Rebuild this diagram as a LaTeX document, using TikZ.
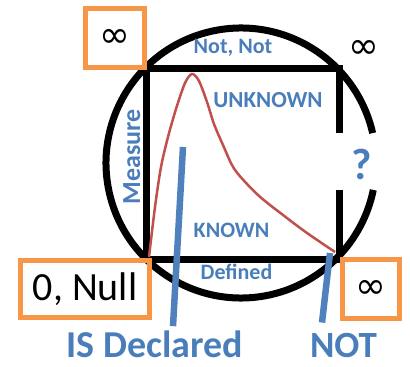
\documentclass[tikz,border=0pt]{standalone}
\usepackage{fontspec}
\setmainfont{Carlito}
\newfontfamily\inffont{DejaVu Sans}
\newcommand{\fsz}[1]{\fontsize{#1}{#1}\selectfont}
\definecolor{labelblue}{HTML}{4A7EBB}
\definecolor{lineblue}{HTML}{4F81BD}
\definecolor{boxorange}{HTML}{F79646}
\definecolor{curvered}{HTML}{C0504D}
\tikzset{
  tag/.style={text=labelblue, inner sep=0pt, anchor=base},
  limitbox/.style={draw=boxorange, line width=5pt, inner sep=0pt},
  pointer/.style={draw=lineblue, line width=6.5pt},
  frame/.style={line width=7pt},
}

\begin{document}
\begin{tikzpicture}[x=1pt,y=1pt]
\useasboundingbox (0,0) rectangle (410,367);
\draw[frame] (241,204) ++(12.8:135) arc[start angle=12.8, end angle=348.5, radius=135];
\draw[frame, line join=miter] (339,234) -- (339,298.5) -- (146,298.5) -- (146,107) -- (339,107) -- (339,177);
\draw[curvered, line width=2.5pt] plot[smooth] coordinates {(149,110) (155,160) (161,200) (168,230) (176,258) (185,284) (192,293) (199,286) (207,265) (214,243) (223,222) (235,197) (258,172) (283,152) (307,134) (335,115)};

\node[limitbox, minimum width=59pt, minimum height=59pt, font=\inffont\fsz{37}] (infbox) at (115,329) {∞};
\node[limitbox, minimum width=129pt, minimum height=57pt, font=\fsz{40}] (nullbox) at (85,78) {0, Null};
\node[limitbox, minimum width=57pt, minimum height=59pt, font=\inffont\fsz{37}] (infboxbr) at (371,78) {∞};
\node[inner sep=0pt, font=\inffont\fsz{37}] (infright) at (364,318) {∞};

\node[tag, font=\fsz{22}\bfseries] (notnot) at (233,313) {Not, Not};
\node[tag, font=\fsz{23}\bfseries] (unknown) at (268,259) {UNKNOWN};
\node[tag, font=\fsz{22}\bfseries] (known) at (231.5,129) {KNOWN};
\node[tag, font=\fsz{22}\bfseries] (defined) at (236.5,87) {Defined};
\node[tag, rotate=90, font=\fsz{26}\bfseries] (measure) at (140,210) {Measure};
\node[tag, font=\fsz{44}\bfseries] (query) at (361.5,187) {?};
\node[tag, font=\fsz{38}\bfseries] (isdecl) at (155,9) {IS Declared};
\node[tag, font=\fsz{37}\bfseries] (notlbl) at (343.5,9) {NOT};

\coordinate (tipknown) at (183,220);
\coordinate (tipnot) at (330,114);
\draw[pointer] (tipknown) -- ([xshift=18pt,yshift=5pt]isdecl.north);
\draw[pointer] (tipnot) -- ([xshift=-21.5pt,yshift=11pt]notlbl.north);
\end{tikzpicture}
\end{document}
